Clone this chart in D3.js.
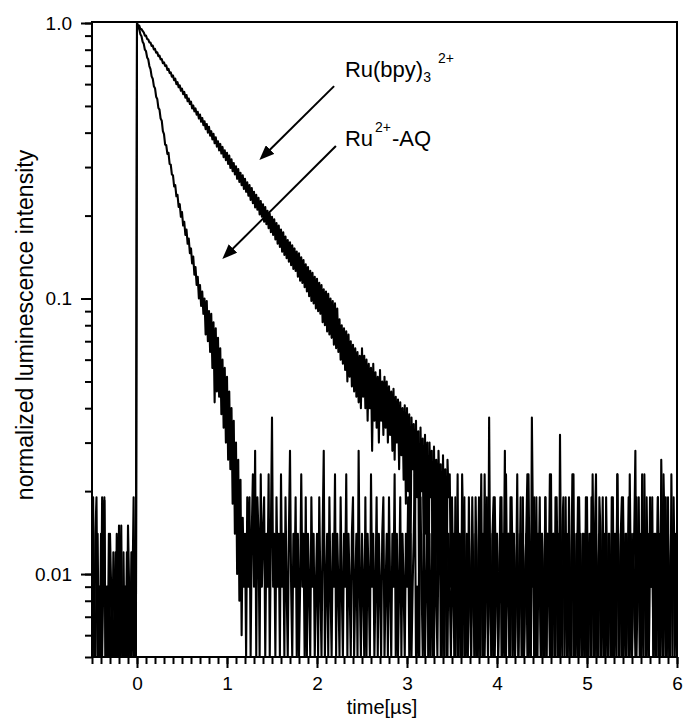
<!DOCTYPE html>
<html>
<head>
<meta charset="utf-8">
<script src="https://cdn.jsdelivr.net/npm/d3@7"></script>
<style>
  body { margin: 0; background: #fff; }
  text { font-family: "Liberation Sans", Arial, sans-serif; fill: #000; }
</style>
</head>
<body>
<div id="chart"></div>
<script>
// sampling of the decay traces (µs); one row below = 0.25 µs
const tStart = -0.5, tStep = 0.0125;

// Ru(bpy)3 2+ : normalized intensity
const ruBpy = [
  0.019, 0.009, 0, 0.014, 0.019, 0, 0.009, 0.005, 0.014, 0, 0.009, 0.019, 0, 0.005, 0.009, 0, 0.014, 0.009, 0, 0.012,
  0.009, 0, 0.014, 0.005, 0.015, 0, 0.009, 0, 0.012, 0.005, 0.009, 0, 0.015, 0.009, 0, 0.005, 0.012, 0, 0.009, 0,
  1.0, 0.975, 0.978, 0.95, 0.95, 0.935, 0.925, 0.9, 0.9, 0.875, 0.872, 0.85, 0.85, 0.825, 0.828, 0.802, 0.805, 0.78, 0.782, 0.758,
  0.762, 0.738, 0.74, 0.715, 0.72, 0.698, 0.702, 0.675, 0.682, 0.658, 0.662, 0.638, 0.645, 0.62, 0.628, 0.6, 0.61, 0.585, 0.594, 0.568,
  0.578, 0.552, 0.562, 0.536, 0.548, 0.52, 0.532, 0.508, 0.518, 0.49, 0.502, 0.478, 0.49, 0.465, 0.476, 0.45, 0.465, 0.438, 0.452, 0.426,
  0.44, 0.412, 0.43, 0.4, 0.42, 0.39, 0.405, 0.378, 0.396, 0.366, 0.385, 0.356, 0.372, 0.345, 0.364, 0.336, 0.355, 0.326, 0.345, 0.318,
  0.338, 0.308, 0.33, 0.298, 0.32, 0.29, 0.31, 0.282, 0.302, 0.272, 0.295, 0.265, 0.286, 0.258, 0.28, 0.25, 0.272, 0.244, 0.264, 0.236,
  0.258, 0.228, 0.252, 0.222, 0.244, 0.214, 0.238, 0.21, 0.232, 0.202, 0.226, 0.198, 0.22, 0.19, 0.215, 0.186, 0.208, 0.18, 0.203, 0.174,
  0.198, 0.17, 0.194, 0.164, 0.188, 0.158, 0.184, 0.154, 0.178, 0.148, 0.174, 0.144, 0.168, 0.14, 0.163, 0.136, 0.16, 0.132, 0.156, 0.128,
  0.152, 0.126, 0.148, 0.12, 0.146, 0.116, 0.141, 0.114, 0.138, 0.11, 0.133, 0.106, 0.13, 0.102, 0.126, 0.098, 0.124, 0.096, 0.12, 0.092,
  0.118, 0.09, 0.114, 0.088, 0.112, 0.082, 0.108, 0.08, 0.106, 0.076, 0.104, 0.074, 0.1, 0.072, 0.098, 0.068, 0.096, 0.066, 0.092, 0.064,
  0.084, 0.06, 0.08, 0.058, 0.078, 0.055, 0.076, 0.05, 0.074, 0.052, 0.07, 0.048, 0.068, 0.046, 0.066, 0.044, 0.064, 0.042, 0.062, 0.04,
  0.066, 0.044, 0.062, 0.04, 0.06, 0.036, 0.058, 0.04, 0.056, 0.028, 0.058, 0.036, 0.054, 0.034, 0.052, 0.03, 0.055, 0.036, 0.05, 0.032,
  0.052, 0.034, 0.05, 0.03, 0.048, 0.032, 0.046, 0.028, 0.047, 0.026, 0.044, 0.03, 0.043, 0.024, 0.042, 0.027, 0.04, 0.022, 0.041, 0.018,
  0.04, 0.02, 0.038, 0.009, 0.037, 0.024, 0.035, 0.014, 0.036, 0.019, 0.033, 0, 0.034, 0.02, 0.031, 0.009, 0.032, 0.014, 0.03, 0.005,
  0.03, 0.019, 0.028, 0, 0.029, 0.014, 0.026, 0.009, 0.028, 0.019, 0.025, 0, 0.027, 0.014, 0.024, 0.005, 0.026, 0.019, 0.023, 0.009,
  0.019, 0.009, 0.014, 0, 0.009, 0.023, 0.005, 0.014, 0.009, 0, 0.014, 0.019, 0.005, 0.009, 0, 0.014, 0.009, 0.005, 0.019, 0.009,
  0.005, 0.014, 0, 0.009, 0.019, 0.005, 0.009, 0.014, 0, 0.023, 0.009, 0.014, 0.005, 0.037, 0.009, 0, 0.014, 0.005, 0.019, 0.009,
  0.014, 0, 0.009, 0.019, 0.005, 0.014, 0.009, 0.028, 0, 0.009, 0.014, 0.005, 0.019, 0.009, 0, 0.014, 0.005, 0.009, 0.023, 0,
  0.009, 0.014, 0.005, 0.019, 0, 0.009, 0.014, 0.005, 0.023, 0.009, 0, 0.037, 0.014, 0.005, 0.009, 0.019, 0, 0.014, 0.009, 0.005,
  0.014, 0, 0.009, 0.019, 0.005, 0.014, 0.009, 0, 0.023, 0.005, 0.014, 0.009, 0, 0.019, 0.009, 0.005, 0.032, 0.009, 0, 0.014,
  0.009, 0.019, 0.005, 0.009, 0.014, 0, 0.009, 0.023, 0.005, 0.014, 0, 0.009, 0.019, 0.005, 0.014, 0.009, 0, 0.014, 0.005, 0.019,
  0, 0.009, 0.014, 0.005, 0.019, 0.009, 0, 0.014, 0.023, 0.005, 0.009, 0.014, 0, 0.009, 0.019, 0.005, 0.014, 0.009, 0, 0.014,
  0.009, 0.005, 0.019, 0, 0.014, 0.009, 0.005, 0.023, 0.009, 0, 0.014, 0.019, 0.005, 0.009, 0.014, 0, 0.009, 0.019, 0.005, 0.014,
  0, 0.009, 0.014, 0.028, 0.005, 0.009, 0.019, 0, 0.014, 0.009, 0.005, 0.023, 0.009, 0, 0.014, 0.005, 0.019, 0.009, 0.014, 0,
  0.009, 0.014, 0.005, 0.019, 0.009, 0, 0.026, 0.014, 0.005, 0.009, 0.019, 0, 0.014, 0.009, 0.005, 0.023, 0.009, 0.014, 0, 0.009,
  0.014
];

// Ru2+-AQ : normalized intensity, same sampling
const ruAq = [
  0.009, 0.019, 0.005, 0, 0.009, 0.014, 0, 0.009, 0, 0.019, 0.009, 0.0185, 0, 0.009, 0.005, 0.014, 0, 0.005, 0.009, 0,
  0.005, 0.012, 0, 0.009, 0, 0.009, 0.015, 0, 0.005, 0.009, 0, 0.012, 0, 0.009, 0.005, 0.012, 0.009, 0.019, 0.005, 0,
  1.0, 0.96, 0.95, 0.91, 0.895, 0.855, 0.84, 0.8, 0.79, 0.75, 0.738, 0.698, 0.68, 0.64, 0.628, 0.59, 0.58, 0.54, 0.53, 0.492,
  0.485, 0.45, 0.442, 0.405, 0.395, 0.362, 0.36, 0.335, 0.338, 0.308, 0.306, 0.282, 0.28, 0.255, 0.258, 0.235, 0.238, 0.215, 0.22, 0.198,
  0.206, 0.184, 0.19, 0.17, 0.178, 0.158, 0.165, 0.146, 0.152, 0.134, 0.142, 0.122, 0.13, 0.112, 0.12, 0.1, 0.112, 0.094, 0.106, 0.088,
  0.1, 0.074, 0.098, 0.07, 0.09, 0.064, 0.088, 0.056, 0.082, 0.042, 0.078, 0.046, 0.072, 0.044, 0.066, 0.038, 0.06, 0.034, 0.056, 0.03,
  0.052, 0.026, 0.046, 0.024, 0.04, 0.018, 0.036, 0.014, 0.03, 0.01, 0.026, 0.008, 0.022, 0.006, 0.016, 0.009, 0.014, 0, 0.019, 0.009,
  0.019, 0, 0.014, 0.023, 0.009, 0.028, 0.005, 0.019, 0.014, 0, 0.023, 0.009, 0.014, 0.019, 0, 0.014, 0.009, 0.023, 0.005, 0.014,
  0.037, 0.009, 0.014, 0, 0.019, 0.009, 0.014, 0.005, 0.023, 0.009, 0.014, 0, 0.019, 0.009, 0.005, 0.014, 0.028, 0.009, 0, 0.014,
  0.009, 0.019, 0.005, 0.014, 0, 0.009, 0.023, 0.009, 0.014, 0.005, 0.019, 0, 0.014, 0.009, 0.005, 0.019, 0.009, 0.014, 0, 0.009,
  0.014, 0.005, 0.019, 0.009, 0, 0.014, 0.028, 0.005, 0.009, 0.014, 0, 0.019, 0.009, 0.005, 0.014, 0.009, 0.023, 0, 0.014, 0.009,
  0.005, 0.019, 0.009, 0, 0.014, 0.009, 0.023, 0.005, 0.014, 0.009, 0, 0.014, 0.019, 0.005, 0.009, 0.014, 0, 0.028, 0.009, 0.005,
  0.014, 0.009, 0, 0.019, 0.005, 0.014, 0.009, 0, 0.023, 0.009, 0.014, 0.005, 0.009, 0.019, 0, 0.014, 0.009, 0.005, 0.014, 0.019,
  0, 0.009, 0.014, 0.005, 0.019, 0.009, 0, 0.014, 0.009, 0.023, 0.005, 0.014, 0, 0.009, 0.019, 0.005, 0.014, 0.009, 0, 0.014,
  0.009, 0.019, 0.005, 0.014, 0, 0.009, 0.014, 0.023, 0.005, 0.009, 0, 0.014, 0.019, 0.009, 0.005, 0.014, 0, 0.009, 0.019, 0.005,
  0.014, 0, 0.009, 0.019, 0.005, 0.014, 0.009, 0, 0.014, 0.023, 0.005, 0.009, 0.014, 0, 0.019, 0.009, 0.005, 0.014, 0.009, 0,
  0.009, 0.014, 0.005, 0.019, 0.009, 0, 0.014, 0.009, 0.005, 0.023, 0.014, 0, 0.009, 0.014, 0.005, 0.019, 0.009, 0, 0.014, 0.009,
  0.005, 0.019, 0.009, 0, 0.014, 0.009, 0.023, 0.005, 0.014, 0, 0.009, 0.019, 0.005, 0.014, 0.009, 0, 0.014, 0.019, 0.005, 0.009,
  0.014, 0, 0.009, 0.014, 0.019, 0.005, 0.009, 0, 0.023, 0.009, 0.014, 0.005, 0, 0.019, 0.009, 0.014, 0.005, 0.009, 0.014, 0,
  0.009, 0.019, 0.005, 0.014, 0, 0.009, 0.014, 0.023, 0.005, 0.009, 0, 0.014, 0.009, 0.019, 0.005, 0, 0.014, 0.009, 0.019, 0.005,
  0.014, 0.009, 0, 0.019, 0.005, 0.014, 0.009, 0.023, 0, 0.009, 0.014, 0.005, 0.019, 0.009, 0, 0.014, 0.005, 0.009, 0.014, 0.019,
  0.005, 0.009, 0.014, 0, 0.019, 0.009, 0.005, 0.014, 0.023, 0, 0.009, 0.014, 0.005, 0.019, 0.009, 0, 0.014, 0.009, 0.005, 0.014,
  0.019, 0, 0.009, 0.014, 0.005, 0.023, 0.009, 0, 0.014, 0.009, 0.005, 0.019, 0.014, 0, 0.009, 0.014, 0.005, 0.019, 0.009, 0,
  0.014, 0.009, 0.005, 0.019, 0, 0.014, 0.009, 0.023, 0.005, 0.009, 0.014, 0, 0.019, 0.009, 0.005, 0.014, 0.009, 0, 0.023, 0.009,
  0.005, 0.014, 0.009, 0, 0.019, 0.009, 0.014, 0.005, 0, 0.023, 0.009, 0.014, 0.005, 0.019, 0.009, 0, 0.014, 0.009, 0.019, 0.005,
  0.014, 0, 0.009, 0.019, 0.005, 0.014, 0.009, 0, 0.023, 0.014, 0.005, 0.009, 0.019, 0, 0.009, 0.014, 0.005, 0.019, 0.009, 0.014,
  0.009
];

const xTicks = [0, 1, 2, 3, 4, 5, 6];
const yTicks = [0.01, 0.1, 1.0];
const yTickLabels = ["0.01", "0.1", "1.0"];

// annotation anchors in data units [time, intensity]
const labelPos = [[2.31, 0.637], [2.31, 0.358]];
const arrowTail = [[2.19, 0.59], [2.21, 0.358]];
const arrowTip = [[1.36, 0.318], [0.948, 0.139]];

const margin = { top: 23, right: 9, bottom: 68, left: 92 },
      width = 686 - margin.left - margin.right,
      height = 725 - margin.top - margin.bottom;

const root = d3.select("#chart")
  .append("svg")
  .attr("width", 686)
  .attr("height", 725);

const defs = root.append("defs");

const svg = root.append("g")
  .attr("transform", `translate(${margin.left},${margin.top})`);

const x = d3.scaleLinear().domain([-0.5, 6]).range([0, width]);
const y = d3.scaleLog().domain([0.005, 1]).range([height, 0]).clamp(true);

defs.append("clipPath").attr("id", "plot-clip")
  .append("rect").attr("width", width).attr("height", height);

defs.append("marker")
  .attr("id", "head")
  .attr("markerUnits", "userSpaceOnUse")
  .attr("markerWidth", 16).attr("markerHeight", 12)
  .attr("refX", 7).attr("refY", 6)
  .attr("orient", "auto")
  .append("path")
  .attr("d", "M0,0L15,6L0,12Z")
  .attr("fill", "#000");

// traces
const line = d3.line()
  .x((d, i) => x(tStart + i * tStep))
  .y(d => y(d));

svg.append("g")
  .attr("clip-path", "url(#plot-clip)")
  .selectAll("path")
  .data([ruBpy, ruAq])
  .enter()
  .append("path")
  .attr("fill", "none")
  .attr("stroke", "#000")
  .attr("stroke-width", 2.1)
  .attr("stroke-linejoin", "round")
  .attr("d", line);

// axes
function styleAxis(g) {
  g.select(".domain").remove();
  g.selectAll(".tick line").attr("stroke", "#000").attr("stroke-width", 2);
  g.attr("font-family", null).attr("font-size", 19);
}

const xMinor = d3.range(-5, 61).map(k => k / 10);

svg.append("g")
  .attr("transform", `translate(0,${height})`)
  .call(d3.axisBottom(x).tickValues(xMinor).tickSize(7).tickFormat(""))
  .call(styleAxis);

svg.append("g")
  .attr("transform", `translate(0,${height})`)
  .call(d3.axisBottom(x).tickValues(xTicks).tickSize(11).tickPadding(9).tickFormat(d3.format("d")))
  .call(styleAxis);

svg.append("g")
  .call(d3.axisLeft(y).tickValues(y.ticks()).tickSize(7).tickFormat(""))
  .call(styleAxis);

svg.append("g")
  .call(d3.axisLeft(y).tickValues(yTicks).tickSize(11).tickPadding(9)
    .tickFormat((d, i) => yTickLabels[i]))
  .call(styleAxis);

// frame
svg.append("rect")
  .attr("x", 0).attr("y", -1)
  .attr("width", width).attr("height", height + 1)
  .attr("fill", "none")
  .attr("stroke", "#000")
  .attr("stroke-width", 2);

// axis titles
svg.append("text")
  .attr("x", 290)
  .attr("y", height + 57)
  .attr("text-anchor", "middle")
  .style("font-size", "20px")
  .text("time[\u00b5s]");

svg.append("text")
  .attr("transform", `translate(-59,${302}) rotate(-90)`)
  .attr("text-anchor", "middle")
  .style("font-size", "23px")
  .text("normalized luminescence intensity");

// arrows
arrowTail.forEach((tail, i) => {
  const x1 = x(tail[0]), y1 = y(tail[1]);
  const x2 = x(arrowTip[i][0]), y2 = y(arrowTip[i][1]);
  const len = Math.hypot(x2 - x1, y2 - y1);
  const back = 8;
  svg.append("line")
    .attr("x1", x1).attr("y1", y1)
    .attr("x2", x2 - (x2 - x1) / len * back)
    .attr("y2", y2 - (y2 - y1) / len * back)
    .attr("stroke", "#000")
    .attr("stroke-width", 2)
    .attr("marker-end", "url(#head)");
});

// labels
const l1 = svg.append("text")
  .attr("x", x(labelPos[0][0]))
  .attr("y", y(labelPos[0][1]))
  .style("font-size", "22px");
l1.append("tspan").text("Ru(bpy)");
l1.append("tspan").attr("dy", 5).style("font-size", "14px").text("3");
l1.append("tspan").attr("dx", 7).attr("dy", -19).style("font-size", "14px").text("2+");

const l2 = svg.append("text")
  .attr("x", x(labelPos[1][0]))
  .attr("y", y(labelPos[1][1]))
  .style("font-size", "22px");
l2.append("tspan").text("Ru");
l2.append("tspan").attr("dx", 2).attr("dy", -14).style("font-size", "14px").text("2+");
l2.append("tspan").attr("dx", 1).attr("dy", 14).text("-AQ");
</script>
</body>
</html>
